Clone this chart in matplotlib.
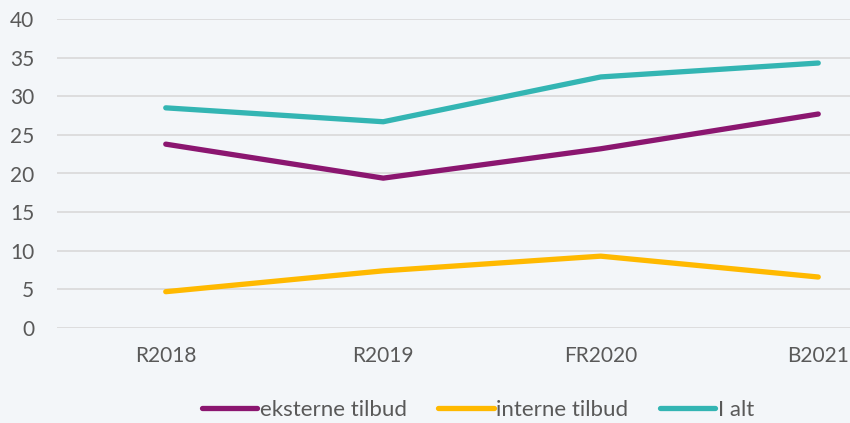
import matplotlib.pyplot as plt
from matplotlib.lines import Line2D

# data
categories = ["R2018", "R2019", "FR2020", "B2021"]
eksterne = [23.8, 19.4, 23.2, 27.7]
interne = [4.7, 7.4, 9.3, 6.6]
i_alt = [28.5, 26.7, 32.5, 34.3]

bg = "#F3F6F9"
txt = "#595959"
plt.rcParams['font.family'] = ['Lato', 'DejaVu Sans']

fig = plt.figure(figsize=(8.5, 4.23), dpi=100, facecolor=bg)
ax = fig.add_axes([57 / 850, 95 / 423, 870 / 850, 309 / 423])
ax.set_facecolor(bg)

x = range(len(categories))
series = [
    (eksterne, "#8B1670", "eksterne tilbud"),
    (interne, "#FFB900", "interne tilbud"),
    (i_alt, "#33B5B3", "I alt"),
]
for vals, col, lab in series:
    ax.plot(x, vals, color=col, lw=3.8, solid_capstyle="round",
            solid_joinstyle="round", label=lab, zorder=3)

ax.set_xlim(-0.5, 3.5)
ax.set_ylim(0, 40)
ax.set_yticks(range(0, 41, 5))
ax.set_xticks(list(x))
ax.set_xticklabels(categories)
ax.grid(axis="y", color="#D9D9D9", lw=1.2)
ax.set_axisbelow(True)
for s in ax.spines.values():
    s.set_visible(False)
ax.tick_params(length=0, labelsize=15, colors=txt)
ax.tick_params(axis="y", pad=16.5)
ax.tick_params(axis="x", pad=13)

handles = [Line2D([0], [0], color=c, lw=3.8, solid_capstyle="round") for _, c, _ in series]
fig.legend(handles, [l for _, _, l in series], loc="center", bbox_to_anchor=(478 / 850, 1 - 410 / 423),
           ncol=3, frameon=False, fontsize=16, labelcolor=txt, handlelength=2.5,
           handletextpad=0.12, columnspacing=1.4)

fig.savefig("out.png", facecolor=bg)
